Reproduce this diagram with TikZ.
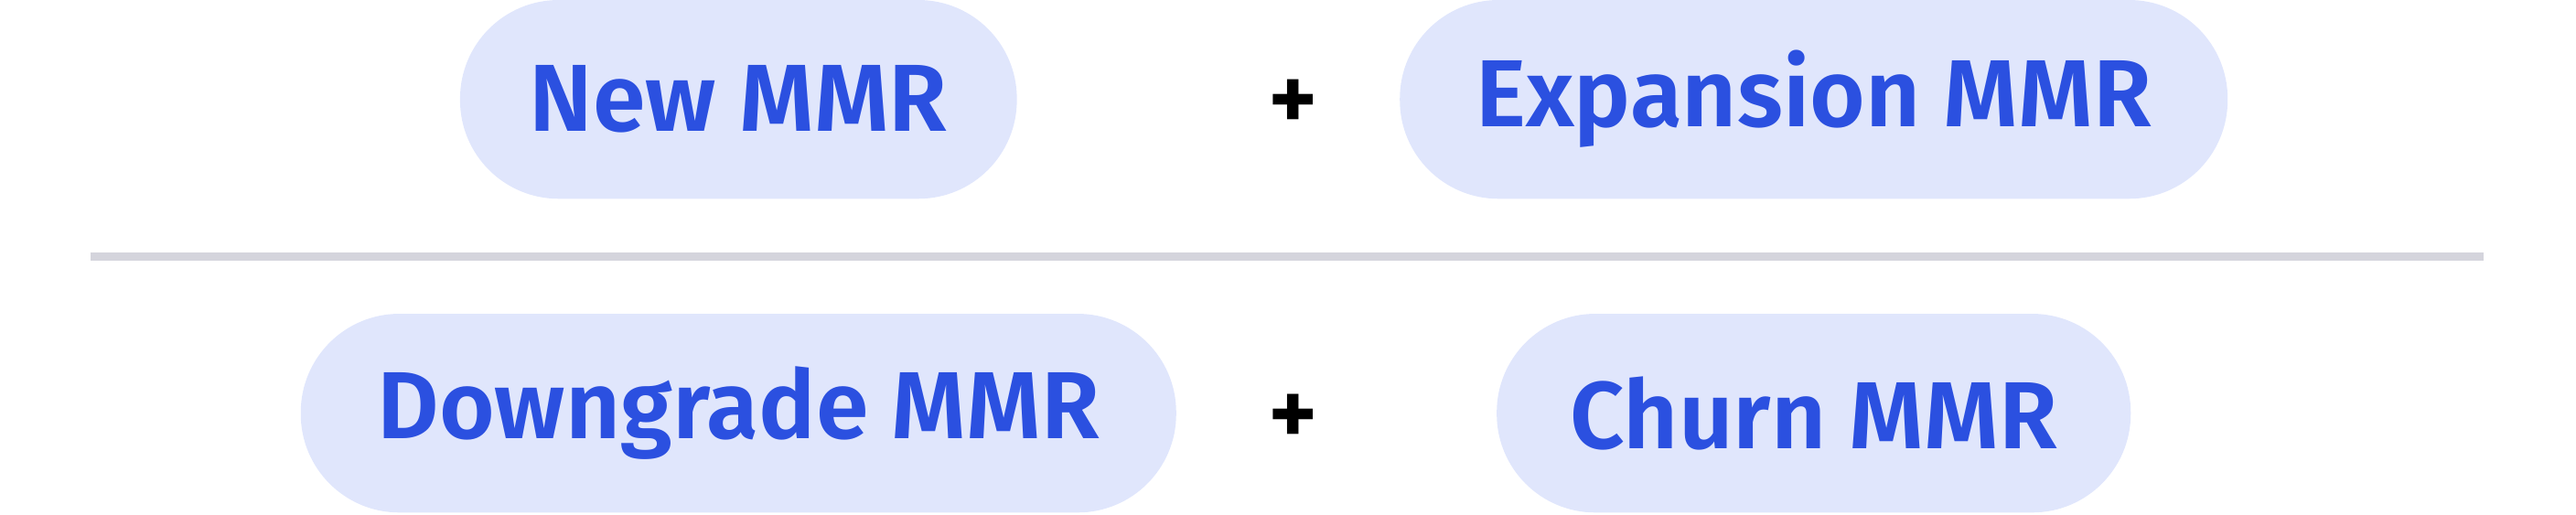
\documentclass[tikz,border=0pt]{standalone}
\usepackage{fontspec}
\setmainfont{Fira Sans}[BoldFont={Fira Sans SemiBold}]
\usetikzlibrary{positioning}
\definecolor{pillfill}{HTML}{E0E6FC}
\definecolor{pilltext}{HTML}{2B50E0}
\definecolor{rulegray}{HTML}{D4D4DC}
\begin{document}
\begin{tikzpicture}[
        x=0.02cm, y=-0.02cm,
        pill/.style={rectangle, fill=pillfill, rounded corners=1.2cm, minimum height=2.42cm,
                     text=pilltext, font=\fontsize{33}{40}\selectfont\bfseries, inner sep=0pt},
        plus/.style={font=\fontsize{33}{40}\selectfont\bfseries, text=black}
    ]
        \useasboundingbox (0,0) rectangle (1568,313);
        % Nodes
        \node [pill, minimum width=6.78cm] (new_mmr) at (449.5,60.5) {\raisebox{-0.05cm}{New MMR}};
        \node [plus] (plus_top) at (787,64) {+};
        \node [pill, minimum width=10.08cm] (exp_mmr) at (1104,60.5) {\raisebox{-0.05cm}{Expansion MMR}};
        \node [pill, minimum width=10.66cm] (down_mmr) at (449.5,251.5) {\raisebox{-0.05cm}{Downgrade MMR}};
        \node [plus] (plus_bot) at (787,256) {+};
        \node [pill, minimum width=7.72cm] (churn_mmr) at (1104,251.5) {\raisebox{-0.05cm}{Churn MMR}};

        % Divider
        \coordinate (rule_l) at (55,156);
        \coordinate (rule_r) at (1512,156);
        \draw [rulegray, line width=0.1cm] (rule_l) -- (rule_r);
    \end{tikzpicture}
\end{document}
